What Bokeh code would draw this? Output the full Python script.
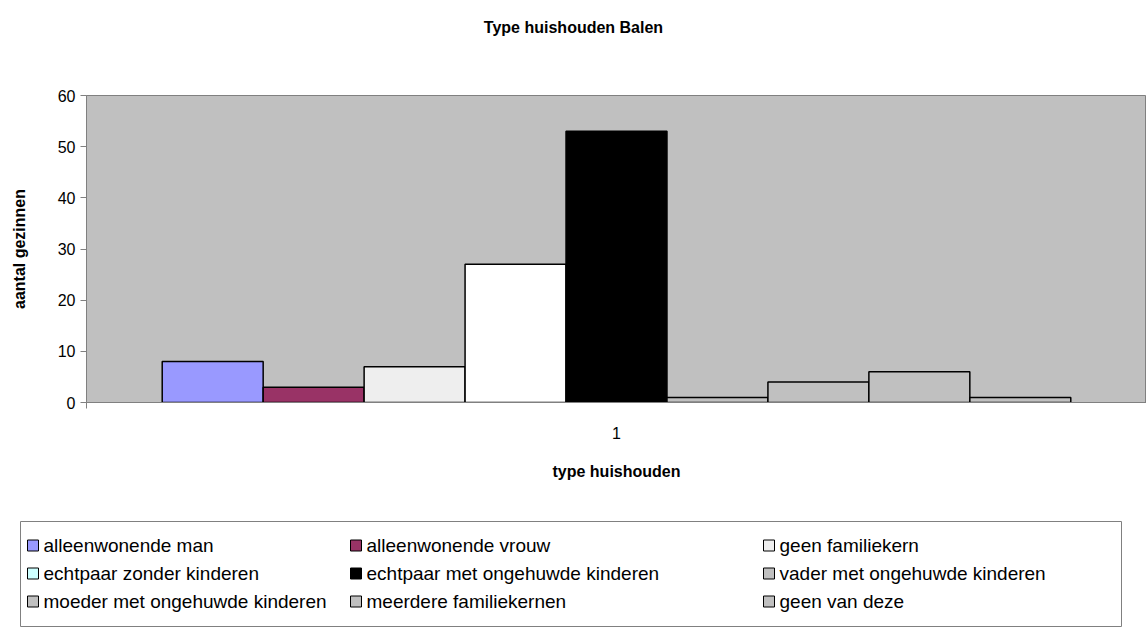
import numpy as np
from bokeh.plotting import figure
from bokeh.models import Range1d, FixedTicker, ColumnDataSource
from bokeh.layouts import column
from bokeh.embed import file_html
from bokeh.resources import INLINE
from bokeh.core.properties import value

# ---------------- data ----------------
title_text = "Type huishouden Balen"
x_title = "type huishouden"
y_title = "aantal gezinnen"
category = "1"
series = [
    "alleenwonende man",
    "alleenwonende vrouw",
    "geen familiekern",
    "echtpaar zonder kinderen",
    "echtpaar met ongehuwde kinderen",
    "vader met ongehuwde kinderen",
    "moeder met ongehuwde kinderen",
    "meerdere familiekernen",
    "geen van deze",
]
counts = [8, 3, 7, 27, 53, 1, 4, 6, 1]
bar_colors = ["#9999FF", "#993366", "#EEEEEE", "#FFFFFF", "#000000",
              "#C0C0C0", "#C0C0C0", "#C0C0C0", "#C0C0C0"]
legend_colors = ["#9999FF", "#993366", "#EEEEEE", "#CCFFFF", "#000000",
                 "#C0C0C0", "#C0C0C0", "#C0C0C0", "#C0C0C0"]
y_ticks = [0, 10, 20, 30, 40, 50, 60]

FONT = "Liberation Sans"
W = 1146

# ---------------- title band ----------------
TH = 62
tf = figure(width=W, height=TH, output_backend="svg", toolbar_location=None,
            x_range=Range1d(0, W), y_range=Range1d(0, TH),
            x_axis_location=None, y_axis_location=None, min_border=0)
tf.outline_line_color = None
tf.xgrid.visible = False
tf.ygrid.visible = False
tf.frame_align = False
tf.text(x=[W / 2 + 0.0], y=[TH - 27.0], text=[title_text], text_align="center",
        text_baseline="middle", text_font=value(FONT), text_font_size="16px",
        text_font_style="bold", text_color="black")

# ---------------- main chart ----------------
n = len(series)
gap = 1.5  # Excel gap width 150 %
bw = 1.0 / (n + gap)
xs = (gap / 2 + np.arange(n) + 0.5) * bw

src = ColumnDataSource(dict(x=xs, top=counts, color=bar_colors, name=series))

MH = 448
p = figure(width=W, height=MH, output_backend="svg", toolbar_location=None,
           x_range=Range1d(0, 1), y_range=Range1d(0, max(y_ticks)),
           min_border_left=86, min_border_right=0, min_border_top=33,
           min_border_bottom=MH - 33 - 307)
p.frame_align = False
p.background_fill_color = "#C0C0C0"
p.border_fill_color = "white"
p.outline_line_color = "#808080"
p.xgrid.visible = False
p.ygrid.visible = False

p.vbar(x="x", top="top", bottom=0, width=bw, fill_color="color",
       line_color="black", line_width=1.5, source=src)

# x axis
xa = p.xaxis[0]
xa.ticker = FixedTicker(ticks=[0.5], minor_ticks=[0.0, 1.0])
xa.major_label_overrides = {0.5: category}
xa.major_tick_out = 0
xa.major_tick_in = 0
xa.minor_tick_out = 6
xa.minor_tick_in = 0
xa.minor_tick_line_color = "#808080"
xa.axis_line_color = "#808080"
xa.major_label_standoff = 18
xa.major_label_text_font = FONT
xa.major_label_text_font_size = "16px"
xa.major_label_text_color = "black"
xa.axis_label = x_title
xa.axis_label_text_font = FONT
xa.axis_label_text_font_size = "16px"
xa.axis_label_text_font_style = "bold"
xa.axis_label_text_color = "black"
xa.axis_label_standoff = 21

# y axis
ya = p.yaxis[0]
ya.ticker = FixedTicker(ticks=y_ticks, minor_ticks=[])
ya.major_tick_out = 6
ya.major_tick_in = 0
ya.major_tick_line_color = "#808080"
ya.axis_line_color = "#808080"
ya.major_label_standoff = 5
ya.major_label_text_font = FONT
ya.major_label_text_font_size = "16px"
ya.major_label_text_color = "black"
ya.axis_label = y_title
ya.axis_label_text_font = FONT
ya.axis_label_text_font_size = "16px"
ya.axis_label_text_font_style = "bold"
ya.axis_label_text_color = "black"
ya.axis_label_standoff = 27

# ---------------- legend panel ----------------
LH = 637 - TH - MH
lg = figure(width=W, height=LH, output_backend="svg", toolbar_location=None,
            x_range=Range1d(0, W), y_range=Range1d(0, LH),
            x_axis_location=None, y_axis_location=None, min_border=0)
lg.frame_align = False
lg.outline_line_color = None
lg.xgrid.visible = False
lg.ygrid.visible = False
lg.background_fill_color = "white"

top0 = 637 - LH  # page y of this panel's top edge
def py(page_y):
    return LH - (page_y - top0)

lg.quad(left=20, right=1121, top=py(521), bottom=py(626), fill_color="white",
        line_color="#808080", line_width=1)

col_x = [27, 350, 763]
row_y = [py(545), py(573), py(601)]
sw = 11
idx = np.arange(n)
lx = np.array([col_x[i % 3] for i in idx], dtype=float)
ly = np.array([row_y[i // 3] for i in idx], dtype=float)
lsrc = ColumnDataSource(dict(x=lx + sw / 2, y=ly, color=legend_colors,
                             tx=lx + sw + 5, label=series))
lg.rect(x="x", y="y", width=sw, height=sw, fill_color="color",
        line_color="black", line_width=1, source=lsrc)
lg.text(x="tx", y="y", text="label", text_baseline="middle", text_align="left",
        text_font=value(FONT), text_font_size="19px", text_color="black",
        source=lsrc)

layout = column(tf, p, lg, spacing=0)
open("out.html", "w").write(file_html(layout, INLINE))
